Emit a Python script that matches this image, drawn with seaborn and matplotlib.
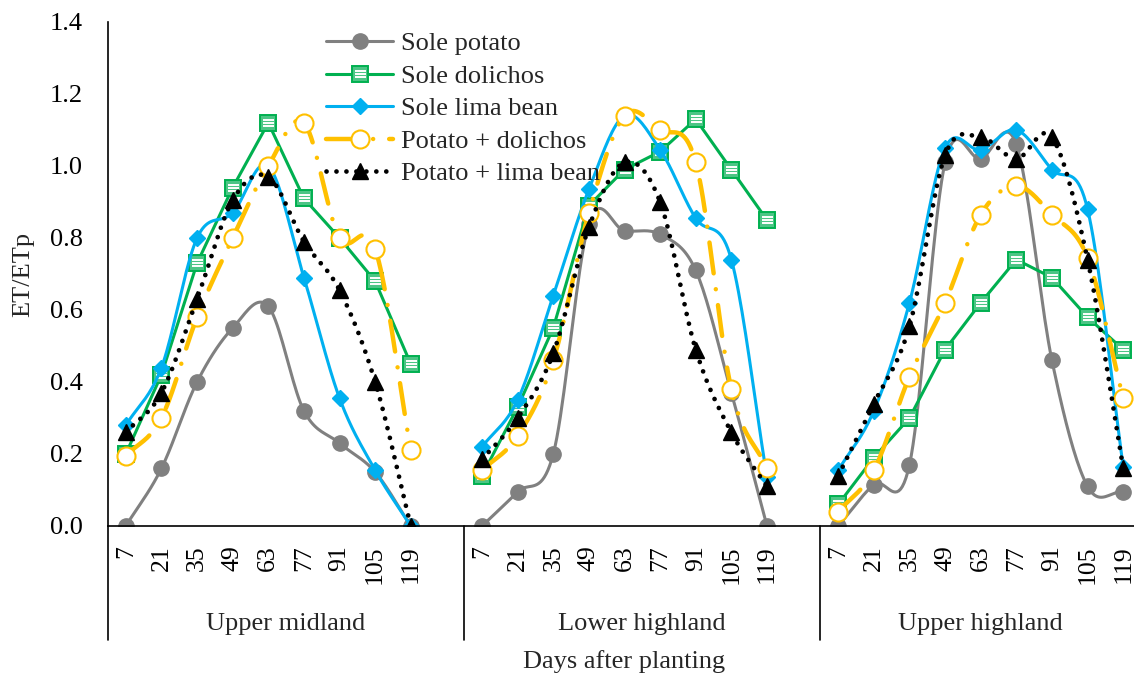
import numpy as np
import pandas as pd
import matplotlib
matplotlib.use("Agg")
import matplotlib.pyplot as plt
import matplotlib.transforms as mtransforms
from matplotlib.path import Path
from matplotlib.lines import Line2D
from matplotlib.legend_handler import HandlerTuple
import seaborn as sns

# ---- data -------------------------------------------------------------
days = [7, 21, 35, 49, 63, 77, 91, 105, 119]
locations = ["Upper midland", "Lower highland", "Upper highland"]
series_names = ["Sole potato", "Sole dolichos", "Sole lima bean",
                "Potato + dolichos", "Potato + lima bean"]

# ET/ETp per location (rows) and sampling day (columns)
sole_potato = [
    [0.00, 0.16, 0.40, 0.55, 0.61, 0.32, 0.23, 0.15, 0.00],
    [0.00, 0.095, 0.20, 0.84, 0.82, 0.81, 0.71, 0.37, 0.00],
    [0.00, 0.115, 0.17, 1.01, 1.02, 1.06, 0.46, 0.11, 0.095],
]
sole_dolichos = [
    [0.20, 0.42, 0.73, 0.94, 1.12, 0.91, 0.80, 0.68, 0.45],
    [0.14, 0.33, 0.55, 0.89, 0.99, 1.04, 1.13, 0.99, 0.85],
    [0.06, 0.19, 0.30, 0.49, 0.62, 0.74, 0.69, 0.58, 0.49],
]
sole_lima_bean = [
    [0.28, 0.44, 0.80, 0.87, 1.00, 0.69, 0.355, 0.155, 0.00],
    [0.22, 0.35, 0.64, 0.935, 1.14, 1.045, 0.855, 0.74, 0.135],
    [0.155, 0.32, 0.62, 1.05, 1.045, 1.10, 0.99, 0.88, 0.165],
]
potato_dolichos = [
    [0.195, 0.30, 0.58, 0.80, 1.00, 1.12, 0.80, 0.77, 0.21],
    [0.155, 0.25, 0.46, 0.87, 1.14, 1.10, 1.01, 0.38, 0.16],
    [0.04, 0.155, 0.415, 0.62, 0.865, 0.945, 0.865, 0.745, 0.355],
]
potato_lima_bean = [
    [0.26, 0.37, 0.63, 0.905, 0.97, 0.79, 0.655, 0.40, 0.00],
    [0.185, 0.30, 0.48, 0.83, 1.01, 0.90, 0.49, 0.26, 0.11],
    [0.14, 0.34, 0.555, 1.03, 1.08, 1.02, 1.08, 0.74, 0.16],
]
y_ticks = [0.0, 0.2, 0.4, 0.6, 0.8, 1.0, 1.2, 1.4]

# ---- styling ----------------------------------------------------------
sns.set_theme(style="white")
plt.rcParams["font.family"] = ["Liberation Serif", "DejaVu Sans"]
FS = 19

GRAY, GREEN, BLUE, GOLD, BLACK = "#808080", "#00B050", "#00B0F0", "#FFC000", "#000000"
LIGHT_GREEN = "#4cc585"

# white horizontal stripes drawn over the square markers
stripe_marker = Path(
    [(-0.5, -0.5), (0.5, 0.5),
     (-0.36, -0.22), (0.36, -0.22),
     (-0.36, 0.0), (0.36, 0.0),
     (-0.36, 0.22), (0.36, 0.22)],
    [Path.MOVETO, Path.MOVETO,
     Path.MOVETO, Path.LINETO,
     Path.MOVETO, Path.LINETO,
     Path.MOVETO, Path.LINETO],
)

styles = {
    "Sole potato": dict(color=GRAY, lw=2.2, ls="-", smooth=True,
                        marker="o", ms=11, mfc=GRAY, mec=GRAY, mew=1),
    "Sole dolichos": dict(color=GREEN, lw=2.2, ls="-", smooth=False,
                          marker="s", ms=11, mfc=LIGHT_GREEN, mec=GREEN, mew=1.4),
    "Sole lima bean": dict(color=BLUE, lw=2.2, ls="-", smooth=True,
                           marker="D", ms=8, mfc=BLUE, mec=BLUE, mew=1),
    "Potato + dolichos": dict(color=GOLD, lw=3.2, ls=(0, (7, 3.6, 0.01, 3.6)), smooth=True,
                              marker="o", ms=13, mfc="white", mec=GOLD, mew=1.5),
    "Potato + lima bean": dict(color=BLACK, lw=3.4, ls=(0, (0.01, 2.1)), smooth=True,
                               marker="^", ms=12, mfc=BLACK, mec=BLACK, mew=1),
}
values = {
    "Sole potato": sole_potato,
    "Sole dolichos": sole_dolichos,
    "Sole lima bean": sole_lima_bean,
    "Potato + dolichos": potato_dolichos,
    "Potato + lima bean": potato_lima_bean,
}


def catmull_rom(x, y, n=20):
    """Smooth curve through the given points (used for the smoothed lines)."""
    x = np.asarray(x, float)
    y = np.asarray(y, float)
    px = np.concatenate([[2 * x[0] - x[1]], x, [2 * x[-1] - x[-2]]])
    py = np.concatenate([[2 * y[0] - y[1]], y, [2 * y[-1] - y[-2]]])
    t = np.linspace(0, 1, n, endpoint=False)
    xs, ys = [], []
    for i in range(1, len(px) - 2):
        for arr, out in ((px, xs), (py, ys)):
            p0, p1, p2, p3 = arr[i - 1:i + 3]
            out.extend(0.5 * (2 * p1 + (-p0 + p2) * t
                              + (2 * p0 - 5 * p1 + 4 * p2 - p3) * t ** 2
                              + (-p0 + 3 * p1 - 3 * p2 + p3) * t ** 3))
    xs.append(x[-1])
    ys.append(y[-1])
    return np.array(xs), np.array(ys)


# one slot per day plus an empty slot separating each location
GROUP = len(days) + 1
positions = [[g * GROUP + i for i in range(len(days))] for g in range(len(locations))]

W, H = 1134, 683
fig = plt.figure(figsize=(W / 100, H / 100), dpi=100)
left, right, top, bottom = 108, 1141, 22, 526
ax = fig.add_axes([left / W, 1 - bottom / H, (right - left) / W, (bottom - top) / H])

for name in series_names:
    st = styles[name]
    for g, loc in enumerate(locations):
        xv = positions[g]
        yv = values[name][g]
        if st["smooth"]:
            cx, cy = catmull_rom(xv, yv)
        else:
            cx, cy = np.asarray(xv, float), np.asarray(yv, float)
        curve = pd.DataFrame({"x": cx, "y": cy})
        sns.lineplot(data=curve, x="x", y="y", ax=ax, sort=False, estimator=None,
                     color=st["color"], lw=st["lw"], linestyle=st["ls"],
                     dash_capstyle="round", solid_capstyle="round",
                     solid_joinstyle="round")
        ax.plot(xv, yv, ls="none", marker=st["marker"], ms=st["ms"],
                mfc=st["mfc"], mec=st["mec"], mew=st["mew"])
        if name == "Sole dolichos":
            ax.plot(xv, yv, ls="none", marker=stripe_marker, ms=st["ms"],
                    mec="white", mew=1.4)

# ---- axes ---------------------------------------------------------------
n_slots = GROUP * len(locations) - 1
ax.set_xlim(-0.5, n_slots - 0.5)
ax.set_ylim(0, 1.4)
ax.set_yticks(y_ticks)
ax.set_yticklabels([f"{v:.1f}" for v in y_ticks], fontsize=FS)
ax.tick_params(axis="y", length=0, pad=18, colors="black")

flat_pos = [p for grp in positions for p in grp]
ax.set_xticks(flat_pos)
ax.set_xticklabels([str(d) for _ in locations for d in days], rotation=90, fontsize=18.5)
ax.tick_params(axis="x", length=0, pad=14, colors="black")
ax.set_xlabel("")
ax.set_ylabel("")

for side in ("top", "right"):
    ax.spines[side].set_visible(False)
for side in ("left", "bottom"):
    ax.spines[side].set_color("black")
    ax.spines[side].set_linewidth(1.2)

# category-group separators and labels below the axis
trans = mtransforms.blended_transform_factory(ax.transData, ax.transAxes)
sep_bottom = -(640 - bottom) / (bottom - top)
for g in range(len(locations) + 1):
    xs = g * GROUP - 0.5
    ax.plot([xs, xs], [0, sep_bottom], transform=trans, color="black",
            lw=1.2, clip_on=False)
for g, loc in enumerate(locations):
    xc = g * GROUP - 0.5 + (len(days) + (1 if g < len(locations) - 1 else 0)) / 2
    ax.text(xc, -(624 - bottom) / (bottom - top), loc, transform=trans,
            ha="center", va="center", fontsize=FS)

fig.text(23 / W, 1 - 274 / H, "ET/ETp", rotation=90, ha="center", va="center", fontsize=FS)
fig.text(624 / W, 1 - 662 / H, "Days after planting", ha="center", va="center", fontsize=FS)

# ---- legend -------------------------------------------------------------
handles = []
for name in series_names:
    st = styles[name]
    h = Line2D([], [], color=st["color"], lw=st["lw"], linestyle=st["ls"],
               dash_capstyle="round", marker=st["marker"], ms=st["ms"],
               mfc=st["mfc"], mec=st["mec"], mew=st["mew"])
    if name == "Sole dolichos":
        stripes = Line2D([], [], ls="none", marker=stripe_marker, ms=st["ms"],
                         mec="white", mew=1.4)
        h = (h, stripes)
    handles.append(h)

fig.legend(handles, series_names, handler_map={tuple: HandlerTuple(ndivide=1)},
           loc="upper left", bbox_to_anchor=(326 / W, 1 - 32 / H),
           frameon=False, fontsize=FS, borderpad=0, borderaxespad=0,
           handlelength=2.55, handletextpad=0.3, labelspacing=0.34)

fig.savefig("out.png", dpi=100)
